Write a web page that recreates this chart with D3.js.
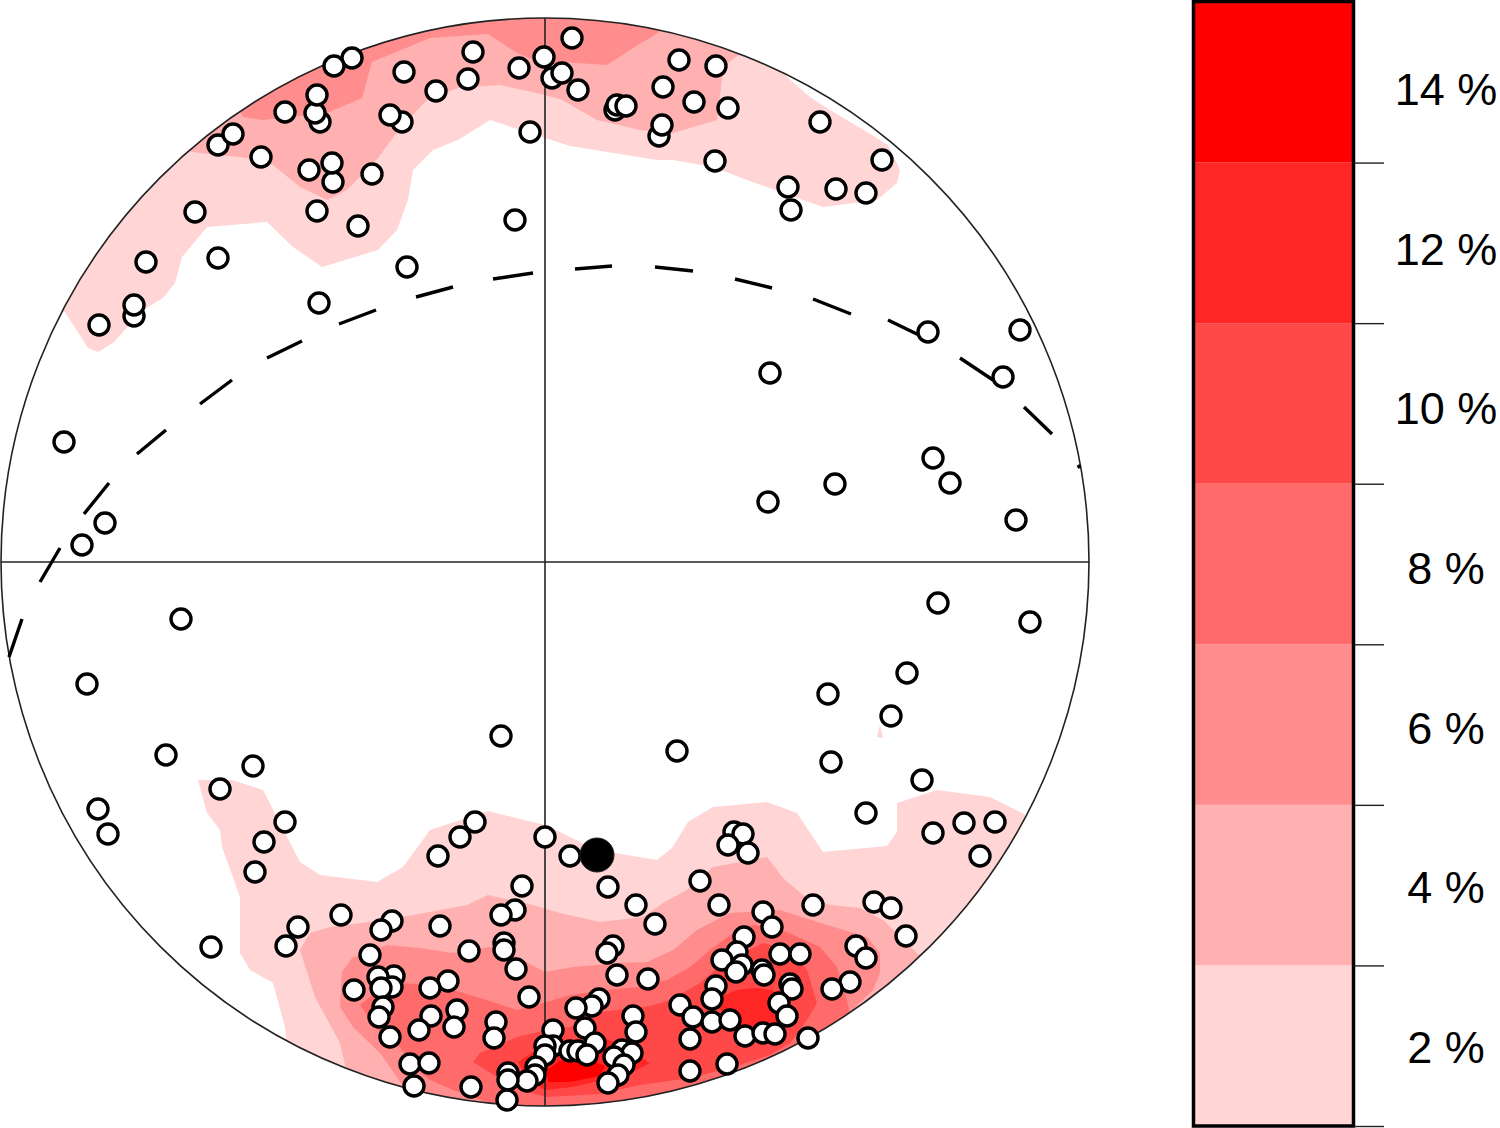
<!DOCTYPE html>
<html>
<head>
<meta charset="utf-8">
<script src="https://cdn.jsdelivr.net/npm/d3@7"></script>
<style>
  body { margin: 0; background: #fff; }
  text { font-family: "Liberation Sans", Arial, sans-serif; }
</style>
</head>
<body>
<div id="my_dataviz"></div>
<script>
// net coordinates: 0,0 is the centre of the net, radius is 544 units
var netRadius = 544;

// poles as [x, y]
var poles = [
  [27,524],[-72,510],[-193,504],[-211,496],[-141,490],[-26,494],[7,484],[17,489],[-1,505],[-77,483],
  [33,472],[-109,471],[134,502],[171,496],[118,475],[149,460],[183,454],[70,452],[72,457],[81,456],
  [-225,440],[-230,449],[-228,467],[-260,450],[-143,440],[-155,447],[114,426],[117,437],[-15,430],[275,440],
  [-327,417],[-312,428],[-284,405],[-212,380],[-213,399],[-236,392],[-173,388],[170,401],[337,402],[243,375],
  [291,373],[321,369],[246,352],[-350,350],[-228,351],[-187,336],[-30,342],[-327,304],[-399,300],[-138,295],
  [-411,246],[-411,257],[-446,237],[-226,259],
  [383,230],[475,232],[225,189],[458,185],[-481,120],[388,104],[405,79],[290,78],[223,60],[471,42],
  [-440,39],[-463,17],[-364,-57],[393,-41],[485,-60],[-458,-122],[362,-111],[283,-132],[346,-154],[-44,-174],
  [132,-189],[-379,-193],[-292,-204],[286,-200],[377,-218],[-325,-227],[-447,-247],[-437,-272],
  [321,-251],[-260,-260],[-281,-280],[-290,-310],[-70,-260],[-85,-275],[-107,-294],[0,-275],[25,-294],
  [450,-260],[419,-261],[388,-271],[435,-294],[189,-270],[198,-272],[183,-283],[203,-291],[-23,-324],
  [63,-325],[155,-319],[91,-343],[174,-343],[268,-343],[329,-340],[346,-346],[110,-362],[218,-350],[227,-365],
  [-204,-353],[-153,-359],[-164,-368],[-247,-365],[-259,-384],[-334,-385],[-105,-364],[-30,-348],[-44,-353],
  [-41,-381],[-41,-388],[-76,-389],[68,-384],[62,-391],[-175,-393],[-29,-407],[72,-413],[103,-417],
  [361,-374],[199,-375],[235,-392],[255,-392],[311,-384],[321,-396],[192,-390],[177,-398],[197,-403],[191,-410],
  [217,-408],[219,-413],[305,-420],[287,-427],[245,-422],[247,-427],[171,-424],[167,-437],[135,-443],[148,-455],
  [167,-460],[185,-458],[234,-441],[242,-454],[200,-474],[218,-471],[230,-472],[263,-476],[145,-477],[182,-502],[145,-509],
  [-151,-414],[-167,-415],[-153,-425],[-164,-426],[-191,-428],[-97,-419],[-115,-426],[-16,-435],[54,-437],[47,-444],
  [31,-446],[-162,-445],[-166,-455],[-88,-448],[-114,-454],[-126,-468],[-91,-465],[-49,-460],[-51,-476],[-155,-475],
  [88,-454],[91,-470],[40,-466],[8,-468],[50,-481],[8,-484],[0,-484],[0,-493],[25,-489],[33,-489],[42,-493],
  [77,-488],[87,-491],[69,-495],[79,-503],[73,-513],[63,-521],[-9,-505],[-10,-513],[-18,-519],[-37,-511],[-37,-518],
  [-38,-538],[-74,-525],[-135,-502],[-116,-501],[-131,-524]
];

// the mean pole, drawn solid
var meanPole = [52, -293];

// great circle, one [x1, y1, x2, y2] for each dash
var greatCircleDashes = [
  [-536,-95,-523,-57],[-505,-20,-485,14],[-461,48,-436,79],[-408,108,-379,132],[-345,158,-313,182],
  [-278,204,-243,221],[-206,238,-169,252],[-129,265,-92,275],[-52,283,-12,289],[30,293,67,296],
  [110,295,148,291],[190,283,227,274],[268,263,306,248],[343,242,378,225],[415,204,448,182],
  [479,155,507,128],[533,97,535,94]
];

// contour polygons for each level, they run outside the net where they are cut by its edge
var contour2 = [
  [[-480,250],[-457,214],[-447,210],[-432,219],[-402,252],[-382,264],[-370,279],[-363,305],[-338,335],[-278,340],
   [-252,315],[-223,295],[-167,312],[-148,332],[-137,362],[-132,392],[-112,412],[-87,422],[-55,442],[0,424],
   [25,416],[112,402],[128,402],[168,395],[202,382],[278,355],[332,362],[352,379],[355,392],[343,417],
   [322,430],[285,452],[265,465],[242,485],[230,505],[0,600],[-300,520],[-520,300],[-520,240]],
  [[-347,-218],[-313,-218],[-282,-228],[-245,-300],[-225,-313],[-168,-320],[-142,-305],[-115,-268],[-57,-249],[0,-263],
   [52,-288],[112,-298],[127,-286],[143,-260],[168,-245],[222,-240],[252,-251],[278,-290],[342,-284],[352,-270],
   [352,-241],[392,-228],[445,-235],[477,-251],[495,-263],[300,-600],[-260,-600],[-259,-475],[-260,-465],[-272,-421],
   [-295,-408],[-305,-391],[-305,-335],[-323,-285],[-325,-268],[-338,-251]],
  [[332,-175],[335,-163],[338,-176]]
];
var contour4 = [
  [[-353,410],[-298,404],[-272,397],[-245,375],[-218,362],[-198,372],[-167,404],[-145,434],[-118,462],[-87,474],
   [-45,477],[0,467],[17,462],[52,442],[95,432],[128,429],[172,442],[176,475],[178,495],[195,508],
   [220,530],[0,600],[-300,520],[-380,430]],
  [[-235,-371],[-215,-365],[-160,-358],[-132,-353],[-78,-343],[-57,-333],[-12,-343],[15,-351],[55,-360],[98,-355],
   [118,-341],[142,-328],[168,-305],[222,-295],[238,-316],[258,-333],[285,-343],[315,-346],[338,-358],[362,-381],
   [372,-391],[420,-420],[200,-600],[-200,-600],[-200,-503],[-205,-481],[-230,-435],[-245,-388]]
];
var contour6 = [
  [[-302,445],[-282,442],[-218,449],[-183,464],[-173,500],[-115,524],[-57,528],[-28,509],[2,497],[18,500],
   [62,497],[88,514],[113,529],[120,560],[0,600],[-320,480]],
  [[-203,-410],[-193,-396],[-158,-383],[-125,-386],[-92,-391],[-55,-385],[-28,-395],[0,-410],[28,-405],[75,-401],
   [102,-400],[128,-388],[152,-368],[185,-351],[235,-348],[282,-363],[322,-375],[335,-391],[335,-411],[328,-428],
   [305,-450],[330,-500],[150,-600],[-130,-600],[-142,-524],[-165,-491],[-192,-465],[-205,-445]]
];
var contour8 = [
  [[-185,-443],[-162,-425],[-145,-421],[-115,-423],[-85,-430],[-52,-440],[-28,-448],[2,-440],[25,-433],[60,-428],
   [95,-425],[122,-418],[145,-405],[165,-388],[188,-371],[208,-363],[242,-370],[275,-385],[292,-405],[302,-438],
   [305,-453],[320,-500],[150,-600],[-60,-600],[-58,-540],[-92,-528],[-115,-518],[-128,-508],[-145,-485],[-167,-468]]
];
var contour10 = [
  [[-72,-500],[-65,-491],[-28,-475],[2,-468],[25,-465],[55,-450],[105,-444],[125,-438],[155,-421],[178,-401],
   [218,-381],[245,-388],[262,-408],[272,-441],[262,-458],[245,-481],[225,-493],[185,-506],[145,-516],[95,-523],
   [55,-532],[2,-535],[-25,-528],[-48,-515]]
];
var contour12 = [
  [[-27,-500],[-12,-490],[15,-483],[58,-475],[80,-486],[105,-501],[88,-510],[58,-518],[28,-525],[0,-528],[-17,-518]],
  [[175,-435],[192,-428],[208,-426],[228,-428],[235,-441],[242,-461],[228,-471],[198,-468],[188,-458],[172,-445]]
];
var contour14 = [
  [[2,-508],[15,-499],[45,-498],[60,-504],[55,-514],[25,-520],[3,-520]]
];

var levels = [contour2, contour4, contour6, contour8, contour10, contour12, contour14];
var levelColors = ["#ffd5d5", "#ffb0b0", "#ff8d8d", "#ff6b6b", "#ff4848", "#ff2626", "#ff0000"];

// colour bar
var legendBreaks = [1, 3, 5, 7, 9, 11, 13, 15];
var legendLabels = [2, 4, 6, 8, 10, 12, 14];

var svg = d3.select("#my_dataviz")
  .append("svg")
  .attr("width", 1500)
  .attr("height", 1128);

var x = d3.scaleLinear().domain([-netRadius, netRadius]).range([1, 1089]);
var y = d3.scaleLinear().domain([-netRadius, netRadius]).range([1106, 18]);

svg.append("clipPath")
  .attr("id", "net-clip")
  .append("circle")
  .attr("cx", x(0))
  .attr("cy", y(0))
  .attr("r", x(netRadius) - x(0));

// contours, lowest level first
var polygon = d3.line()
  .x(function (d) { return x(d[0]); })
  .y(function (d) { return y(d[1]); });

var contours = svg.append("g").attr("clip-path", "url(#net-clip)");

levels.forEach(function (level, i) {
  contours.selectAll(null)
    .data(level)
    .enter()
    .append("path")
    .attr("d", function (d) { return polygon(d) + "Z"; })
    .attr("fill", levelColors[i]);
});

// cross hair and net outline
svg.append("line")
  .attr("x1", x(-netRadius)).attr("x2", x(netRadius))
  .attr("y1", y(0)).attr("y2", y(0))
  .attr("stroke", "#222").attr("stroke-width", 1.6);

svg.append("line")
  .attr("x1", x(0)).attr("x2", x(0))
  .attr("y1", y(netRadius)).attr("y2", y(-netRadius))
  .attr("stroke", "#222").attr("stroke-width", 1.6);

svg.append("circle")
  .attr("cx", x(0))
  .attr("cy", y(0))
  .attr("r", x(netRadius) - x(0))
  .attr("fill", "none")
  .attr("stroke", "#222")
  .attr("stroke-width", 1.6);

// dashed great circle
svg.selectAll(".dash")
  .data(greatCircleDashes)
  .enter()
  .append("line")
  .attr("class", "dash")
  .attr("x1", function (d) { return x(d[0]); })
  .attr("y1", function (d) { return y(d[1]); })
  .attr("x2", function (d) { return x(d[2]); })
  .attr("y2", function (d) { return y(d[3]); })
  .attr("stroke", "#000")
  .attr("stroke-width", 3.4);

// poles
svg.selectAll(".pole")
  .data(poles)
  .enter()
  .append("circle")
  .attr("class", "pole")
  .attr("cx", function (d) { return x(d[0]); })
  .attr("cy", function (d) { return y(d[1]); })
  .attr("r", 10)
  .attr("fill", "#fff")
  .attr("stroke", "#000")
  .attr("stroke-width", 3.4);

svg.append("circle")
  .attr("cx", x(meanPole[0]))
  .attr("cy", y(meanPole[1]))
  .attr("r", 17)
  .attr("fill", "#000")
  .attr("stroke", "#222")
  .attr("stroke-width", 1);

// colour bar
var legendY = d3.scaleLinear().domain([1, 15]).range([1126, 2]);
var labelY = d3.scaleLinear().domain([2, 14]).range([1063, 105]);

var legend = svg.append("g");

legend.selectAll("rect")
  .data(d3.pairs(legendBreaks))
  .enter()
  .append("rect")
  .attr("x", 1194)
  .attr("width", 159)
  .attr("y", function (d) { return legendY(d[1]); })
  .attr("height", function (d) { return legendY(d[0]) - legendY(d[1]); })
  .attr("fill", function (d, i) { return levelColors[i]; });

legend.append("rect")
  .attr("x", 1193.5)
  .attr("y", 1.5)
  .attr("width", 160)
  .attr("height", 1124.5)
  .attr("fill", "none")
  .attr("stroke", "#000")
  .attr("stroke-width", 3.5);

var legendAxis = svg.append("g")
  .attr("transform", "translate(1354,0)")
  .call(d3.axisRight(legendY)
    .tickValues(legendBreaks.slice(0, -1))
    .tickSize(30)
    .tickFormat(""));

legendAxis.select(".domain").remove();
legendAxis.selectAll("line").attr("stroke", "#222").attr("stroke-width", 1.4);

svg.selectAll(".legend-label")
  .data(legendLabels)
  .enter()
  .append("text")
  .attr("class", "legend-label")
  .attr("x", 1446)
  .attr("y", function (d) { return labelY(d); })
  .attr("text-anchor", "middle")
  .attr("font-size", 45)
  .attr("fill", "#000")
  .text(function (d) { return d + " %"; });
</script>
</body>
</html>
